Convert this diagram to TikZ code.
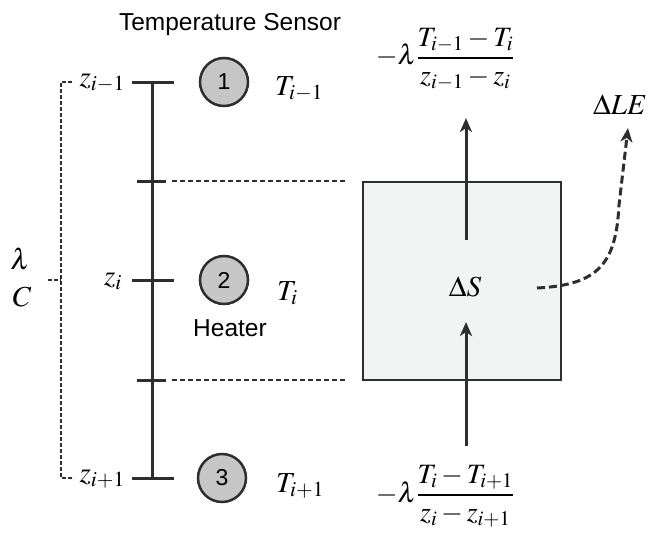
\documentclass[tikz,border=0pt]{standalone}
\usepackage{mathptmx}
\usepackage[no-math]{fontspec}
\newfontfamily\arialfont{Liberation Sans}
\usetikzlibrary{arrows.meta}
\definecolor{ink}{HTML}{2E2E2E}
\definecolor{circfill}{HTML}{C6C6C6}
\definecolor{boxfill}{HTML}{F2F3F3}
\tikzset{
  axis/.style={draw=ink, line width=3pt},
  tick/.style={draw=ink, line width=3pt},
  guide/.style={draw=ink, line width=1.4pt, dash pattern=on 5pt off 3pt},
  bracket/.style={draw=ink, line width=1.8pt, dash pattern=on 4pt off 2pt},
  sensor/.style={circle, draw=ink, fill=circfill, line width=2.5pt, minimum size=48pt, inner sep=0pt, font=\arialfont\fontsize{23}{26}\selectfont},
  mathlbl/.style={inner sep=0pt, font=\fontsize{29}{34}\selectfont},
  sanslbl/.style={inner sep=0pt, font=\arialfont\fontsize{24.5}{28}\selectfont},
  flux/.style={draw=ink, line width=3pt, -{Stealth[length=14pt,width=12pt,inset=4pt]}},
  lat/.style={draw=ink, line width=3pt, dash pattern=on 8pt off 4pt, -{Stealth[length=14pt,width=12pt,inset=4pt]}},
  cell/.style={draw=ink, fill=boxfill, line width=2.2pt},
  fraclbl/.style={inner sep=0pt, font=\fontsize{28}{33}\selectfont}
}
\begin{document}
\begin{tikzpicture}[x=1pt,y=-1pt]
\useasboundingbox (0,0) rectangle (664,538);
% control volume
\draw[cell] (363,182) rectangle (561,380);
\node[mathlbl] (dS) at (465,287) {$\Delta S$};
% axis
\coordinate (ztop) at (152,82);
\coordinate (zbot) at (152,478);
\draw[axis] (ztop) -- (zbot);
\draw[tick] (132,82) -- (174,82);
\draw[tick] (132,280) -- (174,280);
\draw[tick] (132,478) -- (174,478);
\draw[tick] (137,181) -- (166,181);
\draw[tick] (137,380) -- (166,380);
\coordinate (g1a) at (172,181); \coordinate (g1b) at (345,181);
\coordinate (g2a) at (172,380); \coordinate (g2b) at (345,380);
\draw[guide] (g1a) -- (g1b);
\draw[guide] (g2a) -- (g2b);
% z labels
\node[mathlbl, anchor=base east] (z1) at (125,86) {$z_{i-1}$};
\node[mathlbl, anchor=base east] (z2) at (122,285) {$z_{i}$};
\node[mathlbl, anchor=base east] (z3) at (125,482) {$z_{i+1}$};
% sensors
\node[sensor] (s1) at (224,82) {1};
\node[sensor] (s2) at (224,280) {2};
\node[sensor] (s3) at (222,478) {3};
\node[mathlbl, anchor=base west] (T1) at (275,95) {$T_{i-1}$};
\node[mathlbl, anchor=base west] (T2) at (277,300) {$T_{i}$};
\node[mathlbl, anchor=base west] (T3) at (276,492) {$T_{i+1}$};
\node[sanslbl] (ts) at (230,24) {Temperature Sensor};
\node[sanslbl] (ht) at (230,328) {Heater};
% bracket
\coordinate (b1) at (72,82); \coordinate (b2) at (61,82);
\coordinate (b3) at (61,478); \coordinate (b4) at (74,478);
\coordinate (bm) at (61,280); \coordinate (bl) at (48,280);
\draw[bracket] (b1) -- (b2) -- (b3) -- (b4);
\draw[bracket] (bl) -- (bm);
\node[mathlbl] (lam) at (20,259) {$\lambda$};
\node[mathlbl] (cap) at (22,297) {$C$};
% fluxes
\node[fraclbl] (fu) at (445,59) {$\displaystyle -\lambda\frac{T_{i-1}-T_i}{z_{i-1}-z_i}$};
\node[fraclbl] (fd) at (445,496) {$\displaystyle -\lambda\frac{T_{i}-T_{i+1}}{z_{i}-z_{i+1}}$};
\coordinate (ua) at (466,240); \coordinate (ub) at (466,118);
\coordinate (da) at (466,446); \coordinate (db) at (466,322);
\draw[flux] (ua) -- (ub);
\draw[flux] (da) -- (db);
% latent heat
\node[mathlbl] (le) at (620,105) {$\Delta LE$};
\coordinate (la) at (537,288);
\coordinate (lb) at (628,128);
\draw[lat] (la) .. controls (600,285) and (616,262) .. (619,205) -- (lb);
\end{tikzpicture}
\end{document}
